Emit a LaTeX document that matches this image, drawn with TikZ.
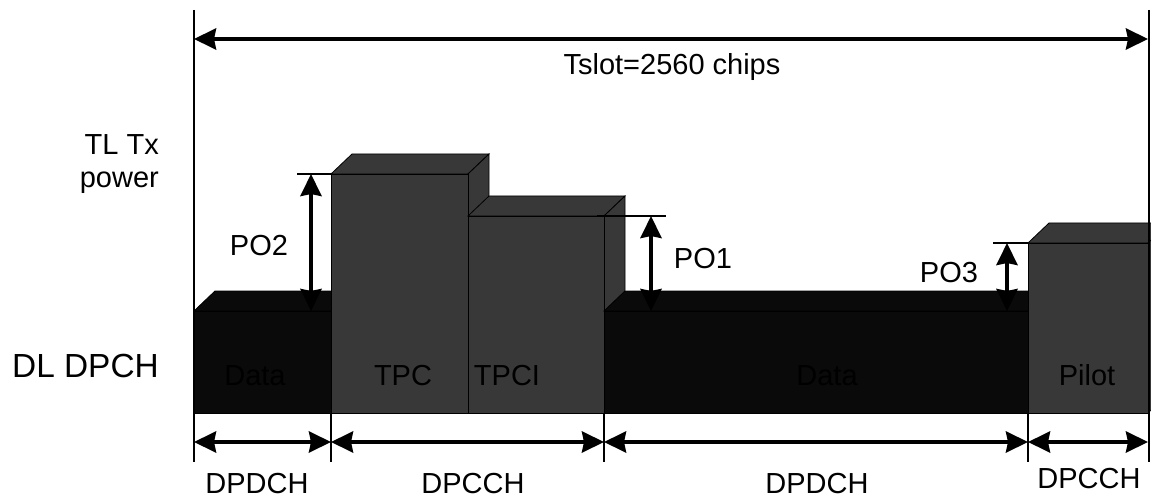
\documentclass[tikz,border=0pt]{standalone}
\usepackage{fontspec}
\setmainfont{Liberation Sans}
\usetikzlibrary{arrows.meta}
\definecolor{datafill}{RGB}{10,10,10}
\definecolor{ctrlfill}{RGB}{56,56,56}
\newcommand\slotblock[5]{%
  \filldraw[blockface,fill=#5] (#1,#3) -- ({#1+21},{#3-20}) -- ({#2+21},{#3-20}) -- (#2,#3) -- cycle;
  \filldraw[blockface,fill=#5] (#2,#3) -- ({#2+21},{#3-20}) -- ({#2+21},{#4-20}) -- (#2,#4) -- cycle;
  \filldraw[blockface,fill=#5] (#1,#3) rectangle (#2,#4);}
\begin{document}
\begin{tikzpicture}[x=1pt,y=-1pt,
  blockface/.style={draw=black,line width=0.8pt},
  thinline/.style={draw=black,line width=1.2pt},
  dimarrow/.style={line width=4pt,{Stealth[length=22pt,width=21pt,inset=2pt]}-{Stealth[length=22pt,width=21pt,inset=2pt]}},
  lbl/.style={font=\fontsize{29}{34}\selectfont,inner sep=0pt,anchor=base},
  inlbl/.style={lbl,text=black}]
\useasboundingbox (0,0) rectangle (1151,497);
\clip (0,0) rectangle (1151,497);
% blocks
\slotblock{194}{331}{311}{413}{datafill}
\slotblock{331}{468}{174}{413}{ctrlfill}
\slotblock{468}{604}{216}{413}{ctrlfill}
\slotblock{604}{1028}{311}{413}{datafill}
\slotblock{1028}{1148}{243}{413}{ctrlfill}
% coordinates
\coordinate (vlt) at (194,10);
\coordinate (vlb) at (194,462);
\coordinate (vrt) at (1149,10);
\coordinate (vrb) at (1149,462);
\coordinate (tl) at (194,39);
\coordinate (tr) at (1148,39);
\coordinate (t1a) at (331,413); \coordinate (t1b) at (331,462);
\coordinate (t2a) at (604,413); \coordinate (t2b) at (604,462);
\coordinate (t3a) at (1028,413); \coordinate (t3b) at (1028,462);
\coordinate (b0) at (194,442);
\coordinate (b1) at (331,442);
\coordinate (b2) at (604,442);
\coordinate (b3) at (1028,442);
\coordinate (b4) at (1148,442);
\coordinate (p2t) at (311,174); \coordinate (p2b) at (311,311);
\coordinate (p2l) at (297,174); \coordinate (p2r) at (331,174);
\coordinate (p1t) at (651,216); \coordinate (p1b) at (651,311);
\coordinate (p1l) at (597,216); \coordinate (p1r) at (666,216);
\coordinate (p3t) at (1007,243); \coordinate (p3b) at (1007,311);
\coordinate (p3l) at (993,243); \coordinate (p3r) at (1028,243);
% thin lines
\draw[thinline] (vlt) -- (vlb);
\draw[thinline] (vrt) -- (vrb);
\draw[thinline] (t1a) -- (t1b);
\draw[thinline] (t2a) -- (t2b);
\draw[thinline] (t3a) -- (t3b);
\draw[thinline] (p2l) -- (p2r);
\draw[thinline] (p1l) -- (p1r);
\draw[thinline] (p3l) -- (p3r);
% arrows
\draw[dimarrow] (tl) -- (tr);
\draw[dimarrow] (b0) -- (b1);
\draw[dimarrow] (b1) -- (b2);
\draw[dimarrow] (b2) -- (b3);
\draw[dimarrow] (b3) -- (b4);
\draw[dimarrow] (p2t) -- (p2b);
\draw[dimarrow] (p1t) -- (p1b);
\draw[dimarrow] (p3t) -- (p3b);
% labels
\node[lbl] (tslot) at (672,75) {Tslot=2560 chips};
\node[lbl,anchor=base east] (tltx) at (159,155) {TL Tx};
\node[lbl,anchor=base east] (power) at (159,188) {power};
\node[lbl,anchor=base east,font=\fontsize{33.4}{39}\selectfont] (dldpch) at (159,377) {DL DPCH};
\node[inlbl] (data1) at (255,385) {Data};
\node[inlbl] (tpc) at (403,385) {TPC};
\node[inlbl] (tpci) at (507,385) {TPCI};
\node[inlbl] (data2) at (827,385) {Data};
\node[inlbl] (pilot) at (1087,385) {Pilot};
\node[lbl] (po2) at (259,255) {PO2};
\node[lbl] (po1) at (703,268) {PO1};
\node[lbl] (po3) at (949,282) {PO3};
\node[lbl] (dpdch1) at (257,493) {DPDCH};
\node[lbl] (dpcch1) at (473,493) {DPCCH};
\node[lbl] (dpdch2) at (817,493) {DPDCH};
\node[lbl] (dpcch2) at (1089,488) {DPCCH};
\end{tikzpicture}
\end{document}
